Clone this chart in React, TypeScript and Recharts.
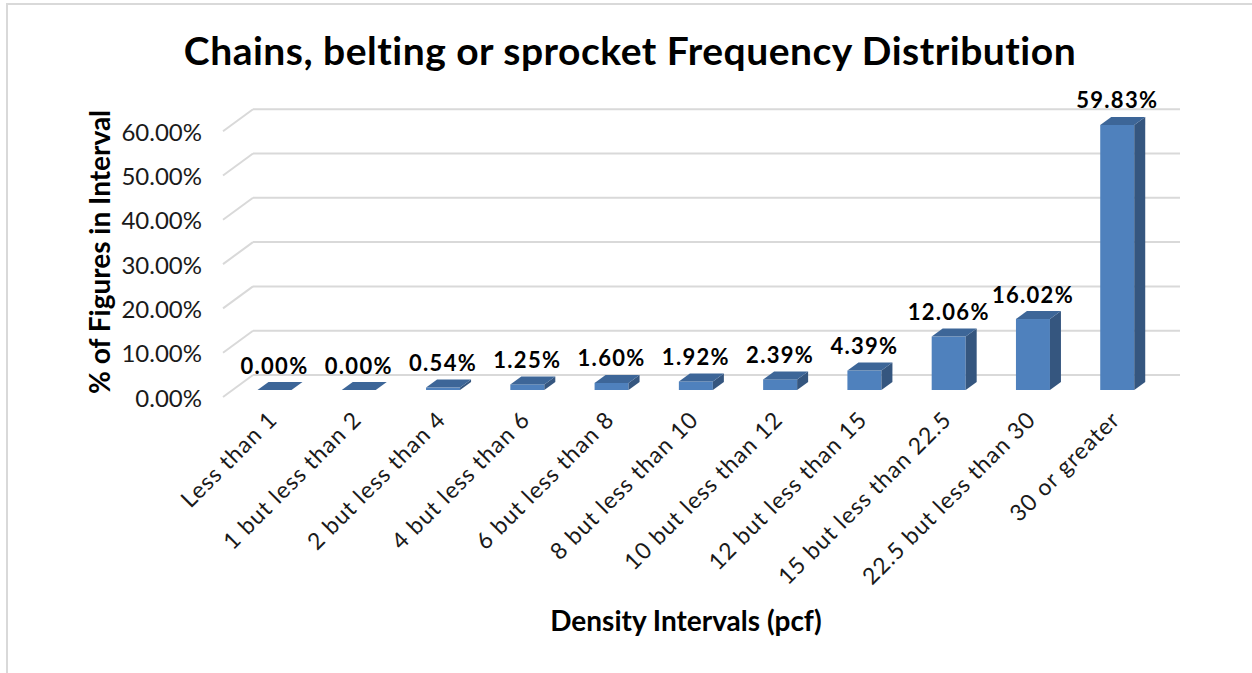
import React from 'react';
import { BarChart, Bar, XAxis, YAxis, CartesianGrid, LabelList } from 'recharts';

const CATEGORIES = [
  'Less than 1',
  '1 but less than 2',
  '2 but less than 4',
  '4 but less than 6',
  '6 but less than 8',
  '8 but less than 10',
  '10 but less than 12',
  '12 but less than 15',
  '15 but less than 22.5',
  '22.5 but less than 30',
  '30 or greater',
];
const SHARES = [0, 0, 0.54, 1.25, 1.6, 1.92, 2.39, 4.39, 12.06, 16.02, 59.83];
const Y_TICKS = [0, 10, 20, 30, 40, 50, 60];

const DATA = CATEGORIES.map((name, i) => ({ name, share: SHARES[i] }));

const W = 1252;
const H = 673;
const PLOT_LEFT = 232.5;
const PLOT_TOP = 124.2;
const PLOT_RIGHT = 1159.5;
const PLOT_BOTTOM = 390;
const X_AXIS_H = 200;

// 3D offsets
const FRONT = { dx: -9.5, dy: 7 };
const BACK = { dx: 20.5, dy: -15 };
const DEPTH = { dx: 11, dy: 8 };

const FONT = 'Lato, sans-serif';
const GRID = '#d9d9d9';

const Bar3D = (props: any) => {
  const { x, y, width, height } = props;
  const h = Math.max(0, height || 0);
  const { dx, dy } = DEPTH;
  return (
    <g>
      <rect x={x} y={y} width={width} height={h} fill="#4f81bd" />
      <polygon
        points={`${x + width},${y} ${x + width + dx},${y - dy} ${x + width + dx},${y + h - dy} ${x + width},${y + h}`}
        fill="#35567f"
      />
      <polygon
        points={`${x},${y} ${x + dx},${y - dy} ${x + width + dx},${y - dy} ${x + width},${y}`}
        fill="#3d6698"
      />
    </g>
  );
};

const GridLine = (props: any) => {
  const { x1, x2, y1 } = props;
  return (
    <g key={props.key}>
      <line x1={x1 + FRONT.dx} y1={y1 + FRONT.dy} x2={x1 + BACK.dx} y2={y1 + BACK.dy} stroke={GRID} strokeWidth={2} />
      <line x1={x1 + BACK.dx} y1={y1 + BACK.dy} x2={x2 + BACK.dx} y2={y1 + BACK.dy} stroke={GRID} strokeWidth={2} />
    </g>
  );
};

const YTick = (props: any) => {
  const { y, payload } = props;
  return (
    <text
      x={PLOT_LEFT + FRONT.dx - 21}
      y={y + FRONT.dy}
      textAnchor="end"
      dominantBaseline="central"
      fontFamily={FONT}
      fontSize={24}
      fill="#1a1a1a"
    >
      {`${Number(payload.value).toFixed(2)}%`}
    </text>
  );
};

const XTick = (props: any) => {
  const { x, payload } = props;
  const tx = x + 4;
  const ty = PLOT_BOTTOM + 31;
  return (
    <text
      x={tx}
      y={ty}
      textAnchor="end"
      transform={`rotate(-45 ${tx} ${ty})`}
      fontFamily={FONT}
      fontSize={23}
      letterSpacing={1}
      fill="#1a1a1a"
    >
      {payload.value}
    </text>
  );
};

const ValueLabel = (props: any) => {
  const { x, y, width, value } = props;
  return (
    <text
      x={x + width / 2}
      y={y - 25}
      textAnchor="middle"
      dominantBaseline="central"
      fontFamily={FONT}
      fontWeight="bold"
      fontSize={22}
      letterSpacing={1.3}
      fill="#000"
    >
      {`${Number(value).toFixed(2)}%`}
    </text>
  );
};

const YTitle = () => (
  <text
    x={99}
    y={252}
    transform="rotate(-90 99 252)"
    textAnchor="middle"
    dominantBaseline="central"
    fontFamily={FONT}
    fontWeight="bold"
    fontSize={28}
    fill="#000"
  >
    % of Figures in Interval
  </text>
);

const XTitle = () => (
  <text
    x={686}
    y={620}
    textAnchor="middle"
    dominantBaseline="central"
    fontFamily={FONT}
    fontWeight="bold"
    fontSize={28}
    fill="#000"
  >
    Density Intervals (pcf)
  </text>
);

export default function App() {
  return (
    <div style={{ position: 'fixed', left: 0, top: 0, width: W, height: H, overflow: 'hidden', background: '#fff' }}>
      <div
        style={{
          position: 'absolute',
          left: 6,
          top: 3,
          right: -10,
          bottom: -10,
          borderLeft: `2px solid ${GRID}`,
          borderTop: `2px solid ${GRID}`,
        }}
      />
      <div
        style={{
          position: 'absolute',
          left: 0,
          width: 1260,
          top: 28,
          textAlign: 'center',
          fontFamily: FONT,
          fontWeight: 'bold',
          fontSize: 39,
          letterSpacing: 0.5,
          color: '#000',
          lineHeight: '44px',
        }}
      >
        Chains, belting or sprocket Frequency Distribution
      </div>
      <div style={{ position: 'absolute', left: 0, top: 0 }}>
        <BarChart
          width={W}
          height={H}
          data={DATA}
          barSize={34}
          margin={{ top: PLOT_TOP, right: W - PLOT_RIGHT, bottom: H - PLOT_BOTTOM - X_AXIS_H, left: PLOT_LEFT - 60 }}
        >
          <CartesianGrid vertical={false} horizontal={GridLine} />
          <XAxis
            dataKey="name"
            interval={0}
            axisLine={false}
            tickLine={false}
            height={X_AXIS_H}
            tick={XTick}
            label={{ content: XTitle }}
          />
          <YAxis
            domain={[0, 60]}
            ticks={Y_TICKS}
            width={60}
            axisLine={false}
            tickLine={false}
            tick={YTick}
            label={{ content: YTitle }}
          />
          <Bar dataKey="share" shape={Bar3D} isAnimationActive={false}>
            <LabelList dataKey="share" content={ValueLabel} />
          </Bar>
        </BarChart>
      </div>
    </div>
  );
}
